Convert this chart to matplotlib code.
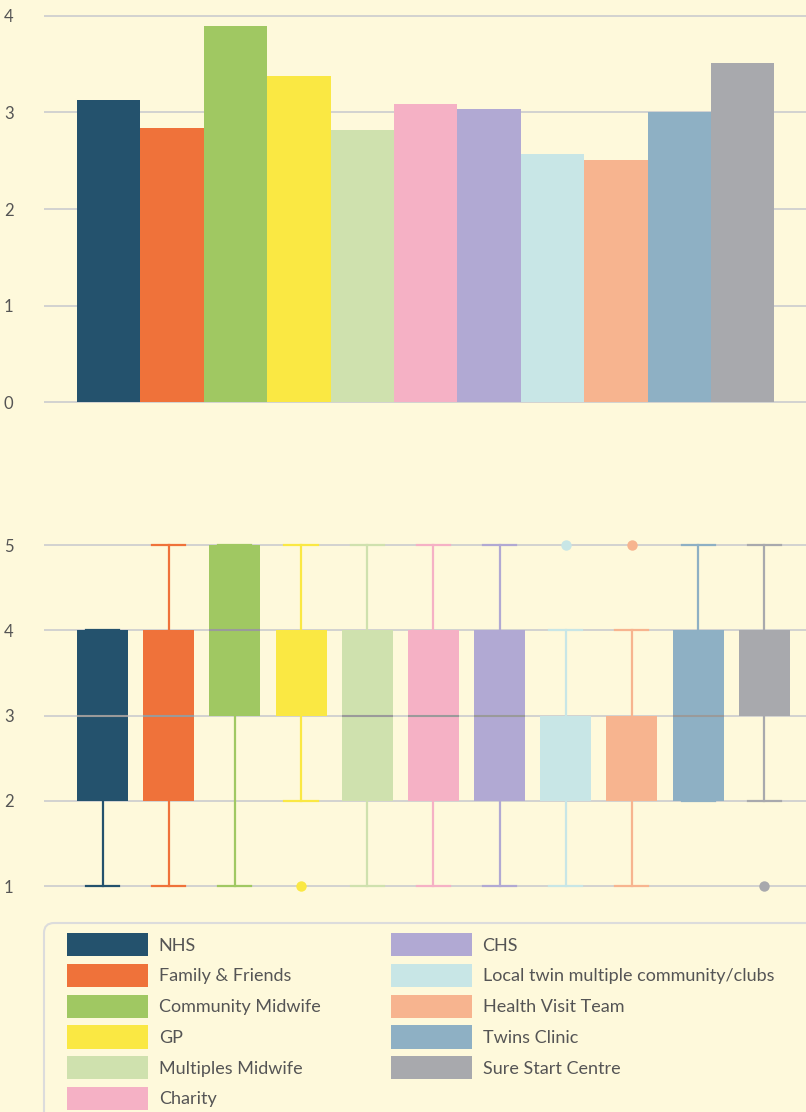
import matplotlib
matplotlib.use("Agg")
import matplotlib.pyplot as plt
from matplotlib.patches import Patch, FancyBboxPatch
from matplotlib.transforms import IdentityTransform

# support sources, mean rating and rating spread
sources = ["NHS", "Family & Friends", "Community Midwife", "GP",
           "Multiples Midwife", "Charity", "CHS",
           "Local twin multiple community/clubs", "Health Visit Team",
           "Twins Clinic", "Sure Start Centre"]
colors = ["#24526d", "#ef723a", "#a0c862", "#fae843", "#cfe1ae", "#f5b1c5",
          "#b1a9d3", "#c8e6e6", "#f7b48f", "#8eb0c4", "#a8a9ad"]

mean_rating = [3.13, 2.84, 3.90, 3.38, 2.82, 3.09, 3.04, 2.57, 2.51, 3.01, 3.51]

q1 = [2, 2, 3, 3, 2, 2, 2, 2, 2, 2, 3]
median = [3, 3, 4, 3, 3, 3, 3, 2, 2, 3, 3]
q3 = [4, 4, 5, 4, 4, 4, 4, 3, 3, 4, 4]
whisker_lo = [1, 1, 1, 2, 1, 1, 1, 1, 1, 2, 2]
whisker_hi = [4, 5, 5, 5, 5, 5, 5, 4, 4, 5, 5]
outliers = [[], [], [], [1], [], [], [], [5], [5], [], [1]]

BG = "#fef9db"
GRID = "#cfcfcf"
TEXT = "#555555"
FONT = "Lato"

W, H = 806, 1112
fig = plt.figure(figsize=(W / 100, H / 100), dpi=100, facecolor=BG)


def style_axes(ax):
    ax.set_facecolor(BG)
    for s in ax.spines.values():
        s.set_visible(False)
    ax.set_axisbelow(True)
    ax.yaxis.grid(True, color=GRID, linewidth=1.3)
    ax.set_xticks([])
    ax.tick_params(axis="y", length=0, pad=22, labelsize=12, labelcolor=TEXT)
    for lab in ax.get_yticklabels():
        lab.set_fontfamily(FONT)


# bar chart of mean ratings
ax1 = fig.add_axes([44 / W, 1 - 408 / H, 762 / W, 398 / H])
ax1.bar(range(len(sources)), mean_rating, width=1.0, color=colors, linewidth=0)
ax1.set_xlim(-1.02, 11.0)
ax1.set_ylim(-0.062, 4.062)
ax1.set_yticks([0, 1, 2, 3, 4])
style_axes(ax1)

# box plot of rating distributions
ax2 = fig.add_axes([44 / W, 1 - 900 / H, 762 / W, 370 / H])
stats = [dict(med=m, q1=a, q3=b, whislo=lo, whishi=hi, fliers=f)
         for m, a, b, lo, hi, f in zip(median, q1, q3, whisker_lo, whisker_hi, outliers)]
parts = ax2.bxp(stats, positions=range(len(sources)), widths=0.77,
                patch_artist=True, showfliers=True, manage_ticks=False)
for i, c in enumerate(colors):
    parts["boxes"][i].set(facecolor=c, edgecolor="none", zorder=3)
    # a median sitting on a box edge is not drawn
    on_edge = median[i] in (q1[i], q3[i])
    parts["medians"][i].set(color="#9a9a9a", linewidth=1.5, zorder=4,
                            visible=not on_edge)
    for ln in parts["whiskers"][2 * i:2 * i + 2] + parts["caps"][2 * i:2 * i + 2]:
        ln.set(color=c, linewidth=1.6, zorder=2)
    parts["fliers"][i].set(marker="o", markerfacecolor=c, markeredgecolor="none",
                           markersize=7.5)
for cap in parts["caps"]:
    x0, x1 = cap.get_xdata()
    xm = (x0 + x1) / 2
    cap.set_xdata([xm - 0.25, xm + 0.25])
ax2.set_xlim(-0.884, 10.63)
ax2.set_ylim(0.836, 5.176)
ax2.set_yticks([1, 2, 3, 4, 5])
style_axes(ax2)

# legend panel
frame = FancyBboxPatch((44, -30), 800, H - 923 + 30,
                       boxstyle="round,pad=0,rounding_size=10",
                       transform=IdentityTransform(), facecolor=BG,
                       edgecolor="#dcdcdc", linewidth=1.5, zorder=0)
fig.patches.append(frame)

handles = [Patch(facecolor=c, edgecolor="none") for c in colors]
leg = fig.legend(handles, sources, loc="upper left",
                 bbox_to_anchor=(67 / W, 1 - 933 / H), ncol=2, frameon=False,
                 borderpad=0, borderaxespad=0, handlelength=4.48,
                 handleheight=1.6, handletextpad=0.6, labelspacing=0.42,
                 columnspacing=3.9, prop={"family": FONT, "size": 13})
for t in leg.get_texts():
    t.set_color(TEXT)

fig.savefig("out.png", dpi=100, facecolor=BG)
